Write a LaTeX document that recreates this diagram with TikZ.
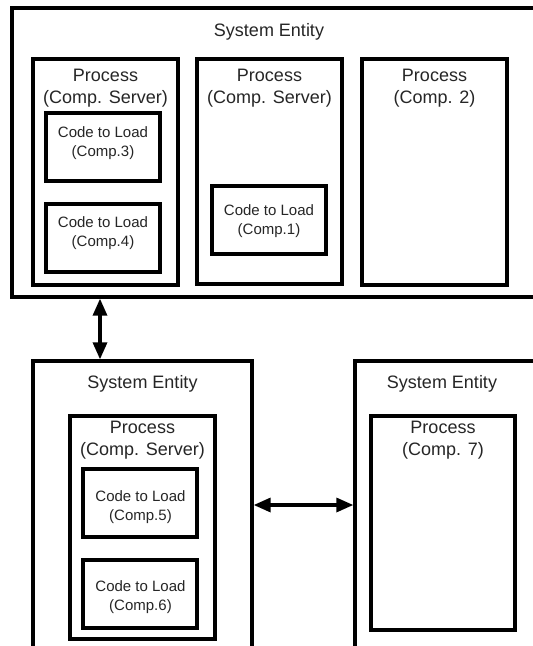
\documentclass[tikz,border=0pt]{standalone}
\usepackage{fontspec}
\setmainfont{Liberation Sans}
\usetikzlibrary{arrows.meta,fit}
\begin{document}
\begin{tikzpicture}[x=1pt,y=-1pt,
  box/.style={draw=black, line width=3.3pt, fill=white, inner sep=0pt},
  ttl/.style={anchor=base, inner sep=0pt, text=black!85, font=\fontsize{18}{22}\selectfont},
  cod/.style={anchor=base, inner sep=0pt, text=black!85, font=\fontsize{15}{18}\selectfont},
  link/.style={line width=3.3pt, {Triangle[length=17pt,width=14pt]}-{Triangle[length=17pt,width=14pt]}}]
\useasboundingbox (0,0) rectangle (533,646);
\clip (0,0) rectangle (533,646);
% top system entity
\node[box, fit={(12,8) (560,297)}] (topent) {};
\node[ttl] (topt) at (269,36) {System Entity};
% processes in top entity
\node[box, fit={(33,59) (178,285)}] (p1) {};
\node[ttl] (p1a) at (105.5,81) {Process};
\node[ttl] (p1b) at (105.5,103) {(Comp. Server)};
\node[box, fit={(46,113) (160,181)}] (c3) {};
\node[cod] (c3a) at (103,137) {Code to Load};
\node[cod] (c3b) at (103,156) {(Comp.3)};
\node[box, fit={(46,204) (160,272)}] (c4) {};
\node[cod] (c4a) at (103,227) {Code to Load};
\node[cod] (c4b) at (103,246) {(Comp.4)};
\node[box, fit={(197,59) (342,284)}] (p2) {};
\node[ttl] (p2a) at (269.5,81) {Process};
\node[ttl] (p2b) at (269.5,103) {(Comp. Server)};
\node[box, fit={(212,186) (326,254)}] (c1) {};
\node[cod] (c1a) at (269,215) {Code to Load};
\node[cod] (c1b) at (269,234) {(Comp.1)};
\node[box, fit={(362,59) (507,285)}] (p3) {};
\node[ttl] (p3a) at (434.5,81) {Process};
\node[ttl] (p3b) at (434.5,103) {(Comp. 2)};
% bottom-left system entity
\node[box, fit={(33,361) (252,680)}] (blent) {};
\node[ttl] (blt) at (142.5,388) {System Entity};
\node[box, fit={(70,416) (215,639)}] (p4) {};
\node[ttl] (p4a) at (142.5,433) {Process};
\node[ttl] (p4b) at (142.5,455) {(Comp. Server)};
\node[box, fit={(83,469) (197,537)}] (c5) {};
\node[cod] (c5a) at (140.5,501) {Code to Load};
\node[cod] (c5b) at (140.5,520) {(Comp.5)};
\node[box, fit={(83,560) (197,628)}] (c6) {};
\node[cod] (c6a) at (140.5,591) {Code to Load};
\node[cod] (c6b) at (140.5,610) {(Comp.6)};
% bottom-right system entity
\node[box, fit={(355,361) (560,680)}] (brent) {};
\node[ttl] (brt) at (442,388) {System Entity};
\node[box, fit={(371,416) (515,630)}] (p7) {};
\node[ttl] (p7a) at (443,433) {Process};
\node[ttl] (p7b) at (443,455) {(Comp. 7)};
% connectors
\coordinate (vx) at (100,0);
\coordinate (hy) at (0,505);
\draw[link] (topent.south -| vx) -- (blent.north -| vx);
\draw[link] (blent.east |- hy) -- (brent.west |- hy);
\end{tikzpicture}
\end{document}
